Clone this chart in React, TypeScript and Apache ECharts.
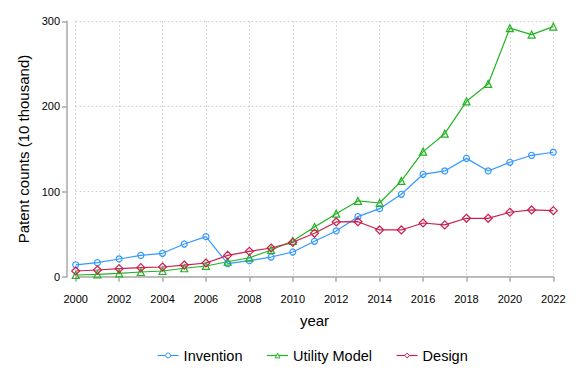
import React, { useEffect, useRef } from "react";
import * as echarts from "echarts";

const years = [2000, 2001, 2002, 2003, 2004, 2005, 2006, 2007, 2008, 2009, 2010, 2011, 2012, 2013, 2014, 2015, 2016, 2017, 2018, 2019, 2020, 2021, 2022];
const invention = [14, 16.5, 20.8, 25, 27.5, 38.4, 47, 15.3, 18.8, 23.1, 29, 41.6, 53.7, 70.5, 79.9, 96.8, 120.3, 124.2, 139, 124.2, 134.4, 142.6, 146.2];
const utilityModel = [2, 2.8, 4, 5.5, 6.7, 9.9, 12.6, 17.6, 22.3, 31.4, 42, 58.4, 74, 89, 86.6, 112.5, 146.9, 168, 206, 226.4, 291.9, 284.4, 293.8];
const design = [6.7, 7.9, 9.4, 10.6, 11.4, 13.7, 16.1, 25.1, 29.8, 33.7, 40.4, 51, 64.3, 64.6, 54.9, 54.9, 63.1, 60.8, 68.6, 68.6, 75.7, 78.4, 77.6];
const seriesNames = ["Invention", "Utility Model", "Design"];

const FONT = "'Liberation Sans', Arial, sans-serif";
const BLUE = "#3399ff";
const GREEN = "#22b422";
const RED = "#cc1f4f";
const COLORS = [BLUE, GREEN, RED];

function mk(name: string, data: number[], color: string, symbol: string, size: number) {
  return {
    name,
    type: "line",
    data: years.map((y, i) => [y, data[i]]),
    symbol,
    symbolSize: size,
    showSymbol: true,
    lineStyle: { color, width: 1.2 },
    itemStyle: { color: "rgba(255,255,255,0)", borderColor: color, borderWidth: 1.2 },
    emphasis: { disabled: true },
  };
}

export default function App() {
  const ref = useRef<HTMLDivElement>(null);
  useEffect(() => {
    if (!ref.current) return;
    const chart = echarts.init(ref.current, undefined, { renderer: "svg" });
    chart.setOption({
      animation: false,
      backgroundColor: "#ffffff",
      textStyle: { fontFamily: FONT },
      grid: { left: 75.7, right: 22.7, top: 21.3, bottom: 107.3 },
      legend: {
        left: 152,
        top: 343,
        itemWidth: 21,
        itemHeight: 6,
        itemGap: 24,
        textStyle: { fontFamily: FONT, fontSize: 14.5, color: "#000" },
        data: seriesNames.map((n, i) => ({
          name: n,
          itemStyle: { color: "#ffffff", borderColor: COLORS[i], borderWidth: 1 },
          lineStyle: { color: COLORS[i], width: 1.2 },
        })),
      },
      xAxis: {
        type: "value",
        min: 2000,
        max: 2022,
        interval: 2,
        offset: 9,
        name: "year",
        nameLocation: "middle",
        nameGap: 27,
        nameTextStyle: { fontFamily: FONT, fontSize: 15, color: "#000" },
        axisLine: { show: true, lineStyle: { color: "#a8a8a8", width: 1.5 } },
        axisTick: { show: true, length: 5, lineStyle: { color: "#a8a8a8", width: 1.5 } },
        axisLabel: { fontFamily: FONT, fontSize: 11, color: "#000", margin: 8, formatter: (v: number) => String(v) },
        splitLine: { show: true, lineStyle: { color: "#cccccc", type: [1.5, 2.5], width: 1 } },
      },
      yAxis: {
        type: "value",
        min: 0,
        max: 300,
        interval: 100,
        offset: 8.7,
        name: "Patent counts (10 thousand)",
        nameLocation: "middle",
        nameGap: 33,
        nameRotate: 90,
        nameTextStyle: { fontFamily: FONT, fontSize: 15, color: "#000" },
        axisLine: { show: true, lineStyle: { color: "#a8a8a8", width: 1.5 } },
        axisTick: { show: true, length: 5, lineStyle: { color: "#a8a8a8", width: 1.5 } },
        axisLabel: { fontFamily: FONT, fontSize: 11, color: "#000", margin: 7 },
        splitLine: { show: true, lineStyle: { color: "#cccccc", type: [1.5, 2.5], width: 1 } },
      },
      series: [
        mk(seriesNames[0], invention, BLUE, "circle", 6),
        mk(seriesNames[1], utilityModel, GREEN, "triangle", 7),
        mk(seriesNames[2], design, RED, "diamond", 8),
      ],
    });
    return () => chart.dispose();
  }, []);
  return <div ref={ref} style={{ width: 576, height: 384, position: "absolute", left: 0, top: 0 }} />;
}
